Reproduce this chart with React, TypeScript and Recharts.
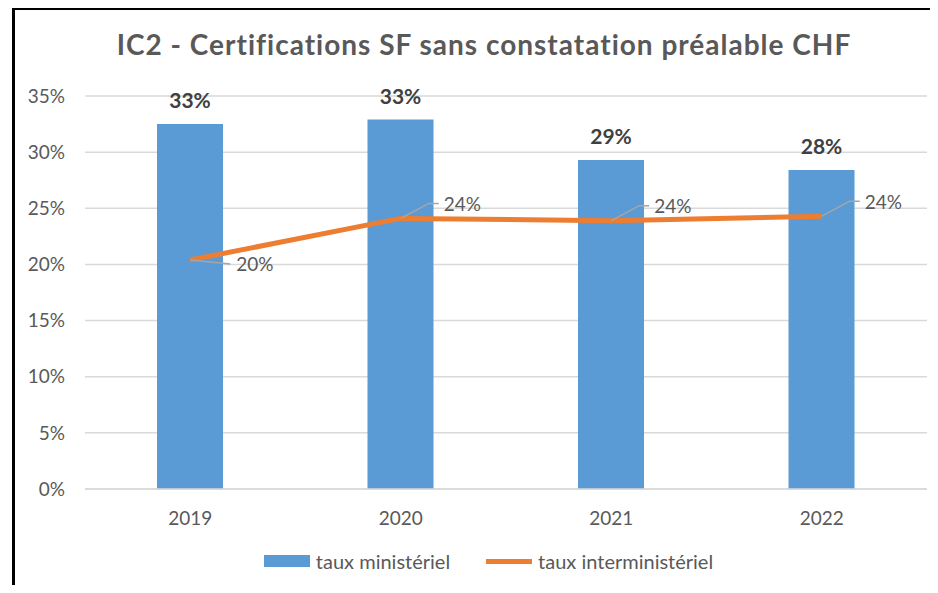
import { ComposedChart, Bar, Line, XAxis, YAxis, CartesianGrid, Legend, LabelList } from 'recharts';

const years = ['2019', '2020', '2021', '2022'];
const tauxMinisteriel = [32.5, 32.9, 29.3, 28.4];
const tauxInterministeriel = [20.4, 24.1, 23.9, 24.3];
const yTicks = [0, 5, 10, 15, 20, 25, 30, 35];

const data = years.map((year, i) => ({
  year,
  ministeriel: tauxMinisteriel[i],
  interministeriel: tauxInterministeriel[i],
}));

const FONT = 'Lato, "Open Sans", sans-serif';
const TEXT = '#595959';
const BLUE = '#5B9BD5';
const ORANGE = '#ED7D31';

const BarLabel = (props: any) => {
  const { x, y, width, value } = props;
  return (
    <text x={x + width / 2} y={y - 16} textAnchor="middle" fill="#404040"
      fontFamily={FONT} fontWeight="bold" fontSize={21}>
      {`${Math.round(value)}%`}
    </text>
  );
};

const LineLabel = (props: any) => {
  const { x, y, value, index } = props;
  const below = index === 0;
  const dy = below ? 4 : -15;
  const kx = below ? 40 : 28;
  return (
    <g>
      <polyline
        points={`${x},${y} ${x + kx},${y + dy} ${x + (below ? 40 : 38)},${y + dy}`}
        fill="none" stroke="#a6a6a6" strokeWidth={1.5} />
      <text x={x + (below ? 46 : 43)} y={y + (below ? dy : dy + 1)} dy="0.35em" fill={TEXT}
        fontFamily={FONT} fontSize={19}>
        {`${Math.round(value)}%`}
      </text>
    </g>
  );
};

const renderLegend = () => (
  <div style={{ display: 'flex', justifyContent: 'center', alignItems: 'center', fontFamily: FONT, fontSize: 20, color: TEXT, height: 24, paddingLeft: 50 }}>
    <span style={{ display: 'inline-block', width: 46, height: 12, background: BLUE, marginRight: 6 }} />
    <span style={{ marginRight: 36 }}>taux ministériel</span>
    <span style={{ display: 'inline-block', width: 46, height: 5, background: ORANGE, marginRight: 6 }} />
    <span>taux interministériel</span>
  </div>
);

export default function App() {
  return (
    <div style={{ position: 'relative', width: 938, height: 593, margin: -8, background: '#fff', overflow: 'hidden' }}>
      <div style={{ position: 'absolute', left: 12, top: 7, width: 926, height: 586, borderLeft: '3px solid #000', borderTop: '3px solid #000' }} />
      <div style={{ position: 'absolute', left: 0, top: 27, width: 938, textAlign: 'center', paddingLeft: 30, boxSizing: 'border-box', fontFamily: FONT, fontWeight: 'bold', fontSize: 28, letterSpacing: 1, color: TEXT }}>
        IC2 - Certifications SF sans constatation préalable CHF
      </div>
      <div style={{ position: 'absolute', left: 0, top: 0 }}>
        <ComposedChart width={938} height={593} data={data}
          margin={{ top: 96, right: 11, left: 0, bottom: 20 }}>
          <CartesianGrid vertical={false} stroke="#d9d9d9" strokeWidth={1.5} />
          <XAxis dataKey="year" height={60} tickLine={false} axisLine={{ stroke: '#d9d9d9', strokeWidth: 1.5 }}
            tick={{ fill: TEXT, fontFamily: FONT, fontSize: 19 }} tickMargin={17} />
          <YAxis width={85} domain={[0, 35]} ticks={yTicks} tickLine={false} axisLine={false} tickSize={0}
            tickFormatter={(v) => `${v}%`} tick={{ fill: TEXT, fontFamily: FONT, fontSize: 19 }} tickMargin={20} />
          <Legend verticalAlign="bottom" height={24} content={renderLegend} />
          <Bar dataKey="ministeriel" name="taux ministériel" fill={BLUE} barSize={66} isAnimationActive={false}>
            <LabelList dataKey="ministeriel" content={BarLabel} />
          </Bar>
          <Line dataKey="interministeriel" name="taux interministériel" stroke={ORANGE} strokeWidth={5}
            dot={false} activeDot={false} isAnimationActive={false}>
            <LabelList dataKey="interministeriel" content={LineLabel} />
          </Line>
        </ComposedChart>
      </div>
    </div>
  );
}
